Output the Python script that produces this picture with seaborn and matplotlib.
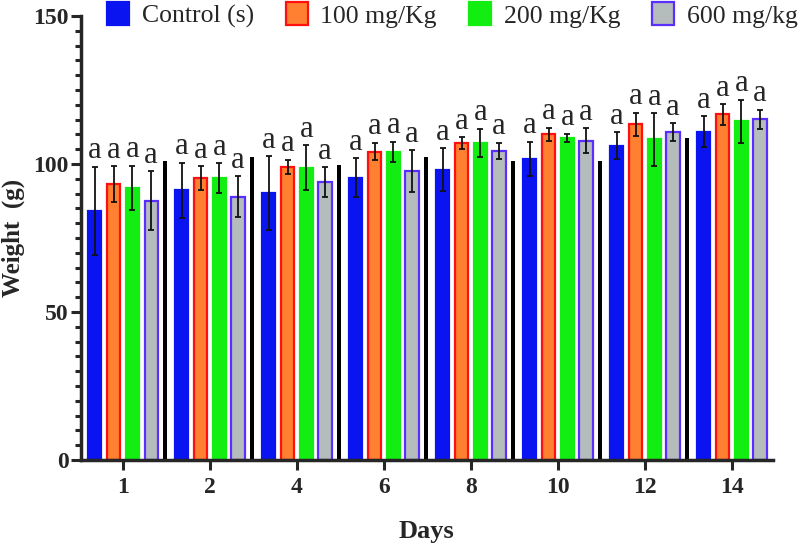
import numpy as np
import pandas as pd
import matplotlib
matplotlib.use("Agg")
import matplotlib.pyplot as plt
import seaborn as sns
from matplotlib.patches import Patch
from matplotlib.ticker import MultipleLocator

days = ["1", "2", "4", "6", "8", "10", "12", "14"]
groups = ["Control (s)", "100 mg/Kg", "200 mg/Kg", "600 mg/kg"]
control_mean = [84.1, 91.1, 90.1, 95.3, 98.1, 101.8, 106.2, 110.9]
control_err = [15.0, 9.3, 12.5, 6.6, 7.2, 5.7, 4.6, 5.2]
mg100_mean = [93.3, 95.3, 99.1, 104.2, 107.0, 110.0, 113.4, 116.8]
mg100_err = [6.0, 4.0, 2.4, 3.0, 2.0, 2.2, 3.9, 3.5]
mg200_mean = [91.9, 95.3, 98.8, 104.1, 107.2, 108.8, 108.3, 114.4]
mg200_err = [7.5, 5.0, 7.6, 3.4, 4.7, 1.5, 8.9, 7.3]
mg600_mean = [87.6, 89.0, 94.0, 97.6, 104.5, 107.8, 110.8, 115.1]
mg600_err = [10.0, 6.8, 5.0, 7.0, 2.7, 4.2, 2.9, 3.2]
separator_vals = [100.9, 102.4, 99.7, 102.4, 100.9, 100.9, 108.8]
letters = "a"

means = [control_mean, mg100_mean, mg200_mean, mg600_mean]
errs = [control_err, mg100_err, mg200_err, mg600_err]

rows = []
for g, m in zip(groups, means):
    for d, v in zip(days, m):
        rows.append({"Days": d, "Group": g, "Weight": v})
df = pd.DataFrame(rows)

sns.set_style("ticks")
plt.rcParams["font.family"] = ["Liberation Serif", "DejaVu Serif"]

face = ["#0A14F0", "#FF8030", "#12EE12", "#B4BCBC"]
edge = ["#0A14F0", "#FF1010", "#12EE12", "#5A2EFF"]

fig = plt.figure(figsize=(8.05, 5.46), dpi=100)
ax = fig.add_axes([0.1006, 0.1575, 0.8594, 0.8132])

sns.barplot(data=df, x="Days", y="Weight", hue="Group", order=days,
            hue_order=groups, palette=face, width=0.86, gap=0.3,
            errorbar=None, legend=False, ax=ax, saturation=1)

for cont, ec, er, m in zip(ax.containers, edge, errs, means):
    xs = []
    for p in cont.patches:
        p.set_edgecolor(ec)
        p.set_linewidth(1.6)
        xs.append(p.get_x() + p.get_width() / 2)
    ax.errorbar(xs, m, yerr=er, fmt="none", ecolor="#111111",
                elinewidth=1.3, capsize=2.5, capthick=1.3, zorder=5)
    for x, v, e in zip(xs, m, er):
        ax.annotate(letters, (x, v + e), xytext=(0, 1), textcoords="offset points",
                    ha="center", va="bottom", fontsize=22)

sep_x = np.arange(len(separator_vals)) + 0.48
ax.bar(sep_x, separator_vals, width=0.05, color="black", linewidth=0)

ax.set_xlim(-0.483, 7.47)
ax.set_ylim(0, 150)
ax.yaxis.set_major_locator(MultipleLocator(50))
ax.yaxis.set_minor_locator(MultipleLocator(5))
ax.tick_params(axis="y", which="major", length=7, width=2.2, labelsize=17, pad=2)
ax.tick_params(axis="y", which="minor", length=4, width=2.2)
ax.tick_params(axis="x", which="major", length=7, width=2.2, labelsize=17, pad=5)
for lab in ax.get_xticklabels() + ax.get_yticklabels():
    lab.set_fontweight("bold")
for s in ["left", "bottom"]:
    ax.spines[s].set_linewidth(2.5)
sns.despine(ax=ax)

ax.set_xlabel("Days", fontsize=19, fontweight="bold", labelpad=16)
ax.set_ylabel("Weight  (g)", fontsize=18, fontweight="bold", labelpad=6)

handles = [Patch(facecolor=f, edgecolor=e, linewidth=1.6) for f, e in zip(face, edge)]
fig.legend(handles, groups, loc="center", bbox_to_anchor=(0.562, 0.972), ncol=4,
           frameon=False, fontsize=18.5, handlelength=0.85, handleheight=1.0,
           handletextpad=0.5, columnspacing=1.25, borderpad=0, borderaxespad=0)

fig.savefig("out.png", dpi=100)
